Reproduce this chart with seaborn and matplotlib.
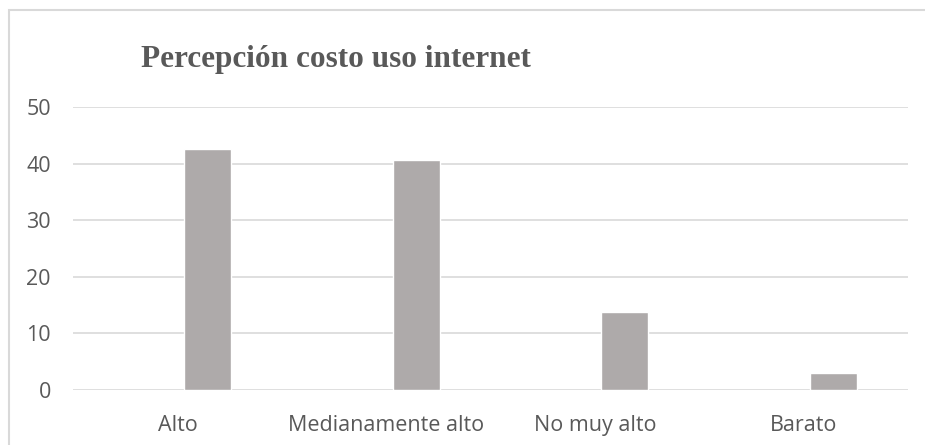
# Percepción costo uso internet - gráfico de barras estilo Excel

import numpy as np
import pandas as pd
import seaborn as sns
import matplotlib.pyplot as plt
from matplotlib.patches import Rectangle


# Datos
categorias = ['Alto', 'Medianamente alto', 'No muy alto', 'Barato']
porcentajes = [42.6, 40.6, 13.8, 3.0]
series = ['', 'Serie 1']  # la primera serie está vacía (por eso las barras van corridas)
y_ticks = [0, 10, 20, 30, 40, 50]

gris_texto = '#595959'
gris_barra = '#aeaaaa'
gris_linea = '#d9d9d9'

df = pd.DataFrame({
    'Categoría': categorias * 2,
    'Valor': [np.nan] * len(categorias) + porcentajes,
    'Serie': [series[0]] * len(categorias) + [series[1]] * len(categorias),
})

sns.set_theme(style="white")
plt.rcParams['font.family'] = ['Open Sans', 'DejaVu Sans']

fig = plt.figure(figsize=(9.25, 4.45), dpi=100)
ax = fig.add_axes([73 / 925, 1 - 390 / 445, (908 - 73) / 925, (390 - 107) / 445])

sns.barplot(data=df, x='Categoría', y='Valor', hue='Serie', hue_order=series,
            palette=[gris_barra, gris_barra], saturation=1, width=0.573, gap=0.215,
            legend=False, ax=ax)

ax.set_ylim(0, 50)
ax.set_yticks(y_ticks)
ax.yaxis.grid(True, color=gris_linea, linewidth=1.2)
ax.set_axisbelow(True)
for s in ax.spines.values():
    s.set_visible(False)
ax.set_xlabel('')
ax.set_ylabel('')
ax.tick_params(axis='both', length=0, labelsize=15.5, labelcolor=gris_texto)
ax.tick_params(axis='y', pad=16)
ax.tick_params(axis='x', pad=18)

# Borde del área del gráfico
fig.patches.append(Rectangle((8.5 / 925, -0.1), 1.2, 1 - 10.5 / 445 + 0.1,
                             transform=fig.transFigure, fill=False,
                             edgecolor=gris_linea, linewidth=1.5))

fig.text(336 / 925, 1 - 67 / 445, 'Percepción costo uso internet',
         ha='center', va='baseline', fontsize=22.5, fontweight='bold',
         color=gris_texto, family=['Liberation Serif', 'DejaVu Serif'])

fig.savefig('out.png', dpi=100)
